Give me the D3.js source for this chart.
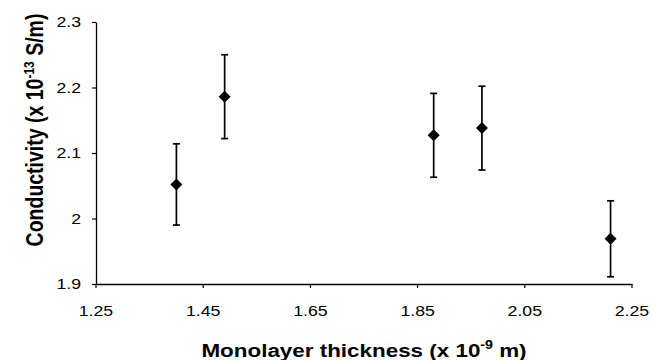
<!DOCTYPE html>
<meta charset="utf-8">
<head>
    <title>Conductivity vs monolayer thickness</title>
    <script src="https://d3js.org/d3.v7.min.js"></script>
</head>
<style type="text/css">
body {
    margin: 0;
    background: #FFFFFF;
}
text {
    font-family: "Liberation Sans", Arial, sans-serif;
    fill: #000;
}
</style>
<body>
    <svg id="chart" width="653" height="360"></svg>

    <script type="text/javascript">
        // data
        var thickness = [1.40, 1.49, 1.88, 1.97, 2.21];
        var conductivity = [2.052, 2.186, 2.127, 2.138, 1.969];
        var errors = [0.062, 0.064, 0.064, 0.064, 0.058];
        var xTicks = [1.25, 1.45, 1.65, 1.85, 2.05, 2.25];
        var yTicks = [1.9, 2.0, 2.1, 2.2, 2.3];

        var stretch = 1.18; // the original is a bit wider than tall

        var svg = d3.select("#chart");
        var x = d3.scaleLinear().domain([1.25, 2.25]).range([96, 632]);
        var y = d3.scaleLinear().domain([1.9, 2.3]).range([284, 22]);

        // x axis
        var gx = svg.append("g")
            .attr("transform", "translate(0," + y(1.9) + ")")
            .call(d3.axisBottom(x).tickValues(xTicks).tickSize(4).tickSizeOuter(0).tickPadding(17)
                .tickFormat(function(d) { return d3.format(".2f")(d); }));
        gx.select(".domain").attr("stroke", "#000").attr("stroke-width", 1.3);
        gx.selectAll(".tick line").attr("stroke", "#000").attr("stroke-width", 1.2);
        gx.selectAll(".tick text")
            .attr("font-size", 15)
            .attr("font-family", "Liberation Sans, Arial, sans-serif")
            .attr("fill", "#111")
            .attr("transform", "scale(" + stretch + ",1)");
        // undo the x shift the scale puts on each tick group
        gx.selectAll(".tick").attr("transform", function(d) { return "translate(" + x(d) + ",0)"; });

        // y axis
        var gy = svg.append("g")
            .attr("transform", "translate(" + x(1.25) + ",0)")
            .call(d3.axisLeft(y).tickValues(yTicks).tickSize(4).tickSizeOuter(0).tickPadding(8.7)
                .tickFormat(function(d) { return d3.format("")(+d.toFixed(1)); }));
        gy.select(".domain").attr("stroke", "#000").attr("stroke-width", 1.3);
        gy.selectAll(".tick line").attr("stroke", "#000").attr("stroke-width", 1.2);
        gy.selectAll(".tick text")
            .attr("font-size", 15)
            .attr("font-family", "Liberation Sans, Arial, sans-serif")
            .attr("fill", "#111")
            .attr("transform", "scale(" + stretch + ",1)");

        // error bars
        var pts = thickness.map(function(t, i) {
            return {x: t, y: conductivity[i], e: errors[i]};
        });
        var bars = svg.append("g").attr("stroke", "#000").attr("stroke-width", 1.7);
        bars.selectAll(".stem").data(pts).enter().append("line")
            .attr("x1", function(d) { return x(d.x); })
            .attr("x2", function(d) { return x(d.x); })
            .attr("y1", function(d) { return y(d.y + d.e); })
            .attr("y2", function(d) { return y(d.y - d.e); });
        bars.selectAll(".capTop").data(pts).enter().append("line")
            .attr("x1", function(d) { return x(d.x) - 3.5; })
            .attr("x2", function(d) { return x(d.x) + 3.5; })
            .attr("y1", function(d) { return y(d.y + d.e); })
            .attr("y2", function(d) { return y(d.y + d.e); });
        bars.selectAll(".capBot").data(pts).enter().append("line")
            .attr("x1", function(d) { return x(d.x) - 3.5; })
            .attr("x2", function(d) { return x(d.x) + 3.5; })
            .attr("y1", function(d) { return y(d.y - d.e); })
            .attr("y2", function(d) { return y(d.y - d.e); });

        // diamond markers
        var diamond = d3.symbol().type(d3.symbolSquare).size(72);
        svg.append("g").selectAll("path").data(pts).enter().append("path")
            .attr("d", diamond)
            .attr("fill", "#000")
            .attr("transform", function(d) {
                return "translate(" + x(d.x) + "," + y(d.y) + ") rotate(45)";
            });

        // axis titles
        var xt = svg.append("text")
            .attr("transform", "translate(" + ((x(1.25) + x(2.25)) / 2) + ",357) scale(" + stretch + ",1)")
            .attr("text-anchor", "middle")
            .attr("font-size", 19)
            .attr("font-weight", "bold");
        xt.append("tspan").text("Monolayer thickness (x 10");
        xt.append("tspan").attr("font-size", 12).attr("dy", -8).text("-9");
        xt.append("tspan").attr("dy", 8).text(" m)");

        var yt = svg.append("text")
            .attr("transform", "translate(43,130) scale(" + stretch + ",1) rotate(-90)")
            .attr("text-anchor", "middle")
            .attr("font-size", 19.5)
            .attr("font-weight", "bold");
        yt.append("tspan").text("Conductivity (x 10");
        yt.append("tspan").attr("font-size", 12).attr("dy", -8).text("-13");
        yt.append("tspan").attr("dy", 8).text(" S/m)");
    </script>
</body>
